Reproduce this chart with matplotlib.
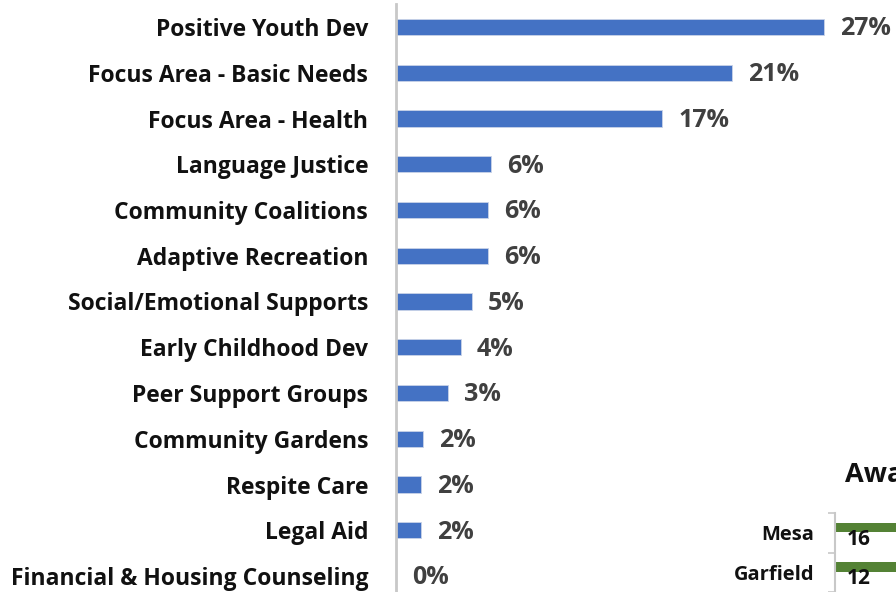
import matplotlib
matplotlib.use("Agg")
import matplotlib.pyplot as plt

categories = ["Positive Youth Dev", "Focus Area - Basic Needs", "Focus Area - Health",
              "Language Justice", "Community Coalitions", "Adaptive Recreation",
              "Social/Emotional Supports", "Early Childhood Dev", "Peer Support Groups",
              "Community Gardens", "Respite Care", "Legal Aid",
              "Financial & Housing Counseling"]
values = [27.0, 21.2, 16.8, 5.97, 5.79, 5.79, 4.81, 4.10, 3.28, 1.72, 1.56, 1.56, 0.0]
value_labels = ["27%", "21%", "17%", "6%", "6%", "6%", "5%", "4%", "3%", "2%", "2%", "2%", "0%"]

counties = ["Mesa", "Garfield"]
county_awards = [16, 12]
county_title = "Awards"

W, H = 896, 592
fig = plt.figure(figsize=(W / 100, H / 100), dpi=100)
FONT = "Open Sans"

# ---- main chart ----
x0 = 396
px_per = 428 / 27.0
row0, rowstep = 27, 45.75
ax = fig.add_axes([x0 / W, 0, (W - x0) / W, 1])
ax.set_xlim(0, (W - x0) / px_per)
ax.set_ylim((H - row0) / rowstep, -row0 / rowstep)
ypos = list(range(len(categories)))
ax.barh(ypos, values, height=0.36, color="#4472C4", edgecolor="#c9d3e8", linewidth=0.6)
for y, v, lab in zip(ypos, values, value_labels):
    ax.text(v + 16 / px_per, y + 0.04, lab, ha="left", va="center", fontsize=18,
            fontweight="bold", color="#404040", family=FONT)
ax.set_yticks(ypos)
ax.set_yticklabels(categories, fontsize=16.5, fontweight="bold", family=FONT, color="#111111")
ax.tick_params(axis="y", length=0, pad=20)
ax.set_xticks([])
for s in ["top", "right", "bottom"]:
    ax.spines[s].set_visible(False)
ax.spines["left"].set_color("#c8c8c8")
ax.spines["left"].set_linewidth(2)
ax.spines["left"].set_bounds(-0.5, 13)

# ---- second chart (partially visible) ----
ax2_x0 = 835
ax2 = fig.add_axes([ax2_x0 / W, 0, 300 / W, (592 - 513) / H])
r0, rs = 534.5, 43.0
ax2.set_ylim((592 - r0) / rs, -0.5)
ax2.set_xlim(0, 20)
cy = [0, 1]
ax2.barh([c - 0.128 for c in cy], county_awards, height=0.24, color="#548235")
for c, v in zip(cy, county_awards):
    ax2.text(12 / (300 / 20), c + 0.16, str(v), ha="left", va="center", fontsize=15,
             fontweight="bold", color="#111111", family=FONT)
ax2.set_yticks(cy)
ax2.set_yticklabels(counties, fontsize=14.5, fontweight="bold", family=FONT, color="#111111")
ax2.set_yticks([-0.5, 0.5, 1.5], minor=True)
ax2.tick_params(axis="y", which="major", length=0, pad=15)
ax2.tick_params(axis="y", which="minor", length=5, color="#c8c8c8", width=1.2)
ax2.set_xticks([])
for s in ["top", "right", "bottom"]:
    ax2.spines[s].set_visible(False)
ax2.spines["left"].set_color("#c8c8c8")
ax2.spines["left"].set_linewidth(1.5)
fig.text(845 / W, 1 - 475 / H, county_title, ha="left", va="center", fontsize=19.5,
         fontweight="bold", family=FONT, color="#111111")

fig.savefig("out.png", dpi=100)
